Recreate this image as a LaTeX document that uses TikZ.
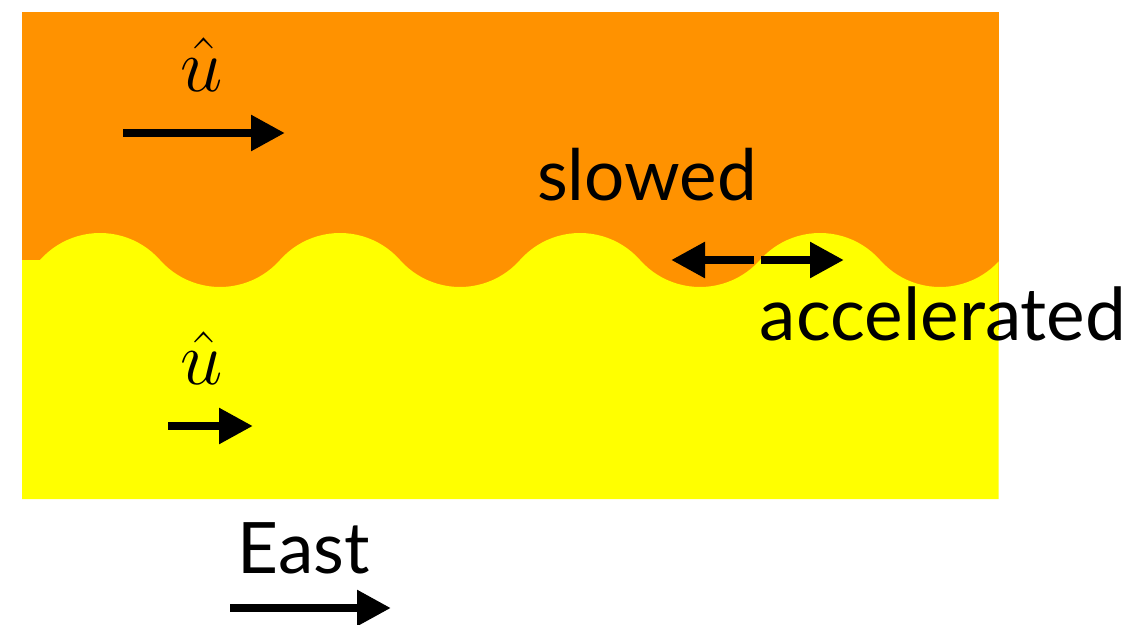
\RequirePackage{fix-cm}
\documentclass[tikz,border=0pt]{standalone}
\usepackage{fontspec}
\setmainfont{Lato}
\usetikzlibrary{arrows.meta}
\definecolor{fluidtop}{RGB}{255,146,0}
\definecolor{fluidbot}{RGB}{255,255,0}
\tikzset{
  bigarrow/.style={line width=8.5pt,-{Triangle[length=34pt,width=34pt]}},
  lbl/.style={font=\fontsize{71}{80}\selectfont,anchor=base,inner sep=0pt},
  mlbl/.style={font=\fontsize{76}{84}\selectfont,anchor=base,inner sep=0pt}
}
\begin{document}
\begin{tikzpicture}[x=1pt,y=-1pt]
\useasboundingbox (0,0) rectangle (1143,624);
% upper layer
\fill[fluidtop] (22,12) rectangle (999,330);
% lower layer with wavy interface
\begin{scope}
\clip (22,0) rectangle (998.5,624);
\fill[fluidbot] (22,260) -- (40,260)
  \foreach \c in {100,340,580,820} {
    -- plot[domain=0:1,samples=25,variable=\t] ({\c+80.2*cos(221.6+96.8*\t)},{313.2+80.2*sin(221.6+96.8*\t)})
    -- plot[domain=0:1,samples=25,variable=\t] ({\c+120+80.2*cos(138.4-96.8*\t)},{206.8+80.2*sin(138.4-96.8*\t)})
  }
  -- (1000,260) -- (1000,499) -- (22,499) -- cycle;
\end{scope}
% labels
\node[mlbl] (u1) at (202,91) {$\hat{u}$};
\node[mlbl] (u2) at (202,384) {$\hat{u}$};
\node[lbl] (slow) at (647,200) {slowed};
\node[lbl,font=\fontsize{73}{80}\selectfont] (acc) at (943,340) {accelerated};
\node[lbl] (east) at (304,573) {East};
% arrows
\coordinate (a1s) at (123,133); \coordinate (a1e) at (285,133);
\coordinate (a2s) at (168,426); \coordinate (a2e) at (253,426);
\coordinate (a3s) at (230,608); \coordinate (a3e) at (391,608);
\coordinate (l1s) at (754,260); \coordinate (l1e) at (671,260);
\coordinate (r1s) at (761,260); \coordinate (r1e) at (844,260);
\draw[bigarrow] (a1s) -- (a1e);
\draw[bigarrow] (a2s) -- (a2e);
\draw[bigarrow] (a3s) -- (a3e);
\draw[bigarrow] (l1s) -- (l1e);
\draw[bigarrow] (r1s) -- (r1e);
\end{tikzpicture}
\end{document}
